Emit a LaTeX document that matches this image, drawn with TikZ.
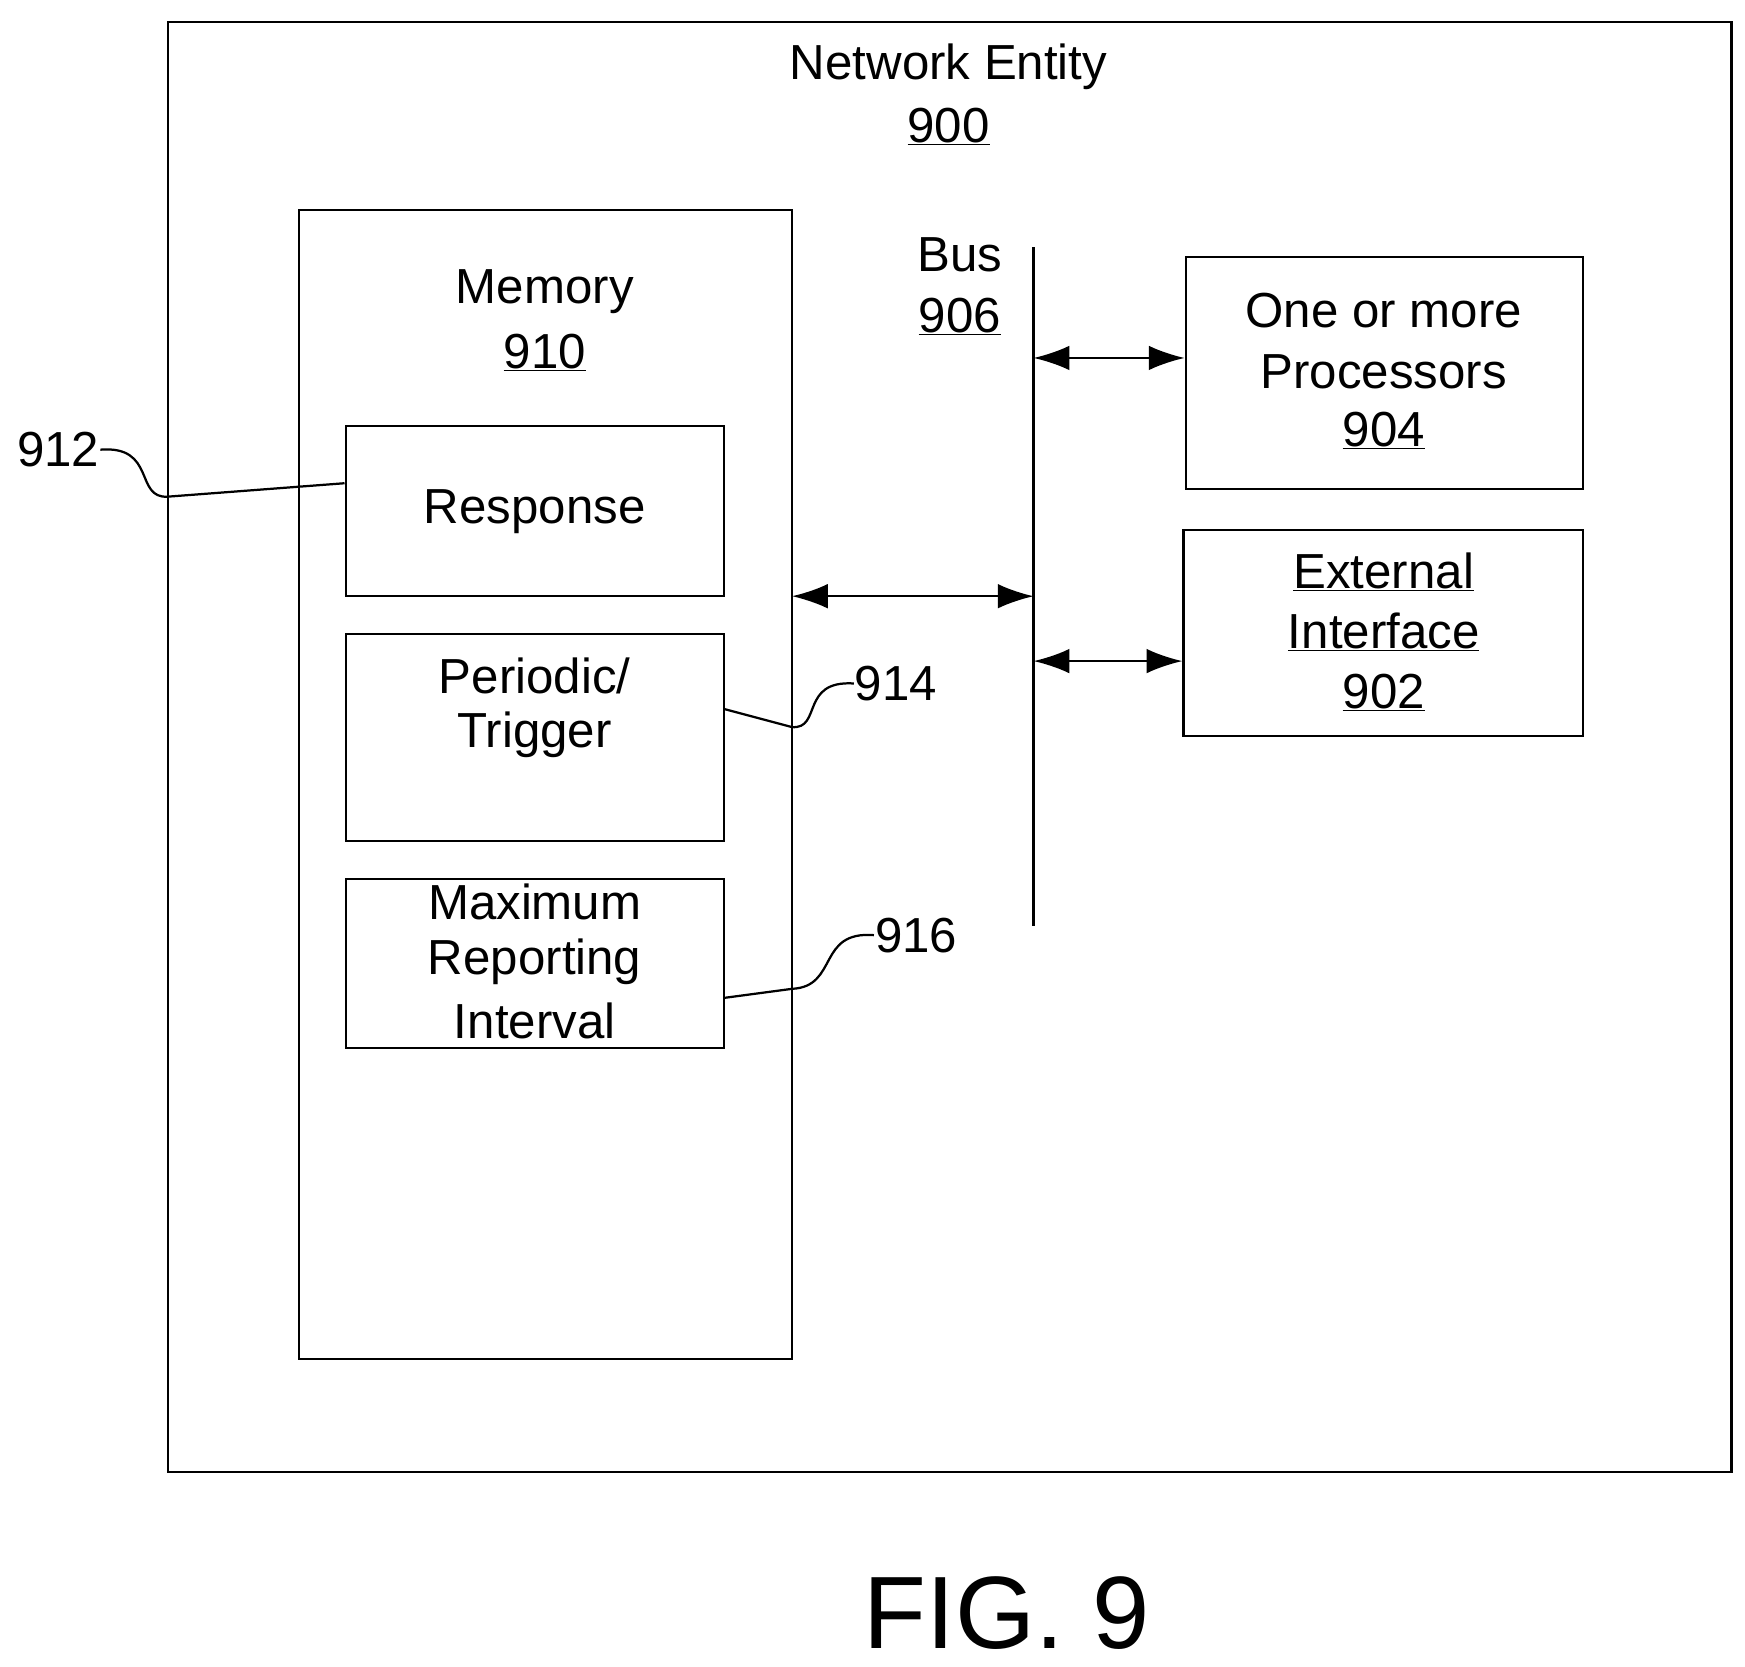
\documentclass[tikz,border=0pt]{standalone}
\usepackage{fontspec}
\setmainfont{Liberation Sans}
\usetikzlibrary{arrows.meta}
\begin{document}
\begin{tikzpicture}[x=1pt,y=-1pt,line width=2pt,
 box/.style={draw,line width=2pt},
 txt/.style={font=\fontsize{44}{54}\selectfont,align=center,inner sep=0},
 arr/.style={{Latex[length=32pt,width=22pt]}-{Latex[length=32pt,width=22pt]}}]
\useasboundingbox (0,0) rectangle (1560,1490);
\draw[box] (150,20) rectangle (1548,1316);
\node[txt] (ne) at (848,60) {Network Entity};
\node[txt] (n900) at (848,113) {\underline{900}};
\draw[box] (267,188) rectangle (708,1215);
\coordinate (memR) at (708,533);
\node[txt] (mem) at (487,261) {Memory};
\node[txt] (n910) at (487,315) {\underline{910}};
\node[box,minimum width=338pt,minimum height=152pt] (resp) at (478,457) {};
\node[txt] at (resp) {Response};
\node[box,minimum width=338pt,minimum height=185pt] (per) at (478,659.5) {};
\node[txt] at (478,604) {Periodic/};
\node[txt] at (478,657) {Trigger};
\node[box,minimum width=338pt,minimum height=151pt] (max) at (478,861.5) {};
\node[txt] at (478,806) {Maximum};
\node[txt] at (478,860) {Reporting};
\node[txt] at (478,913) {Interval};
\coordinate (bt) at (924,221); \coordinate (bb) at (924,828);
\draw (bt) -- (bb);
\node[txt] at (858,228) {Bus};
\node[txt] at (858,283) {\underline{906}};
\node[box,minimum width=355pt,minimum height=207pt] (proc) at (1237.5,333.5) {};
\node[txt] at (1237,278) {One or more};
\node[txt] at (1237,332) {Processors};
\node[txt] at (1237,385) {\underline{904}};
\node[box,minimum width=357pt,minimum height=184pt] (ext) at (1236.5,566) {};
\node[txt] at (1237,511) {\underline{External}};
\node[txt] at (1237,565) {\underline{Interface}};
\node[txt] at (1237,619) {\underline{902}};
\coordinate (b1) at (924,320); \coordinate (b2) at (924,533); \coordinate (b3) at (924,591);
\draw[arr] (b1) -- (proc.west|-b1);
\draw[arr] (memR) -- (b2);
\draw[arr] (b3) -- (ext.west|-b3);
\node[txt] (l912) at (52,402) {912};
\node[txt] (l914) at (801,611) {914};
\node[txt] (l916) at (819,836) {916};
\draw (l912.east) .. controls (140,398) and (120,446) .. (150,444) -- (resp.west|-0,432);
\draw (l914.west) .. controls (715,608) and (735,652) .. (708,650) -- (per.east|-0,634);
\draw (l916.west) .. controls (730,832) and (750,882) .. (708,884) -- (max.east|-0,892);
\node[txt,font=\fontsize{92}{92}\selectfont] (fig) at (900,1442) {FIG. 9};
\end{tikzpicture}
\end{document}
